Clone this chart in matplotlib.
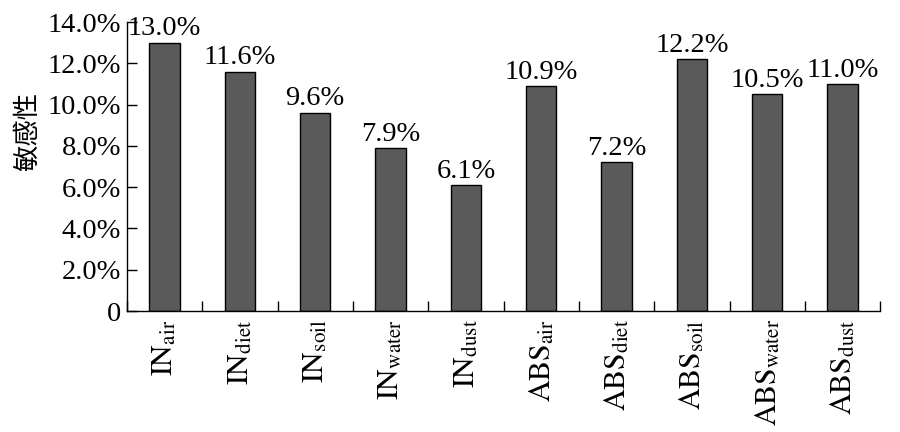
"""
plot.py — sensitivity bar chart (IN / ABS exposure routes)
"""

import matplotlib
matplotlib.use("Agg")
import matplotlib.pyplot as plt
from matplotlib.ticker import FixedLocator, FuncFormatter
import numpy as np

# ── Data ────────────────────────────────────────
routes   = ["IN", "IN", "IN", "IN", "IN", "ABS", "ABS", "ABS", "ABS", "ABS"]
media    = ["air", "diet", "soil", "water", "dust", "air", "diet", "soil", "water", "dust"]
values   = [13.0, 11.6, 9.6, 7.9, 6.1, 10.9, 7.2, 12.2, 10.5, 11.0]   # percent
y_ticks  = [0, 2, 4, 6, 8, 10, 12, 14]
y_label  = "敏感性"
# ────────────────────────────────────────────────

plt.rcParams["font.family"] = ["Liberation Serif", "Noto Sans CJK SC"]
plt.rcParams["mathtext.fontset"] = "stix"

BAR_COLOR = "#5a5a5a"
FS = 20.5

fig = plt.figure(figsize=(9, 4.32), dpi=100)
ax = fig.add_axes([0.141, 0.280, 0.837, 0.669])

x = np.arange(len(values))
bars = ax.bar(x, values, width=0.4, color=BAR_COLOR, edgecolor="black", linewidth=1.0)

# value labels on top of bars
for xi, v in zip(x, values):
    ax.annotate(f"{v:.1f}%", (xi, v), xytext=(0, 1), textcoords="offset points",
                ha="center", va="bottom", fontsize=FS)

ax.set_xlim(-0.5, len(values) - 0.5)
ax.set_ylim(0, 14)

# y axis
ax.set_yticks(y_ticks)
ax.yaxis.set_major_formatter(FuncFormatter(lambda v, p: "0" if v == 0 else f"{v:.1f}%"))
ax.tick_params(axis="y", direction="in", length=7, width=1, labelsize=FS, pad=4)
ax.set_ylabel(y_label, family=["Noto Sans CJK SC"], fontsize=19)
ax.yaxis.set_label_coords(-0.114, 0.62)

# x axis: boundary ticks (major), labels at bar centres (minor)
ax.xaxis.set_major_locator(FixedLocator(np.arange(-0.5, len(values), 1.0)))
ax.xaxis.set_major_formatter(FuncFormatter(lambda v, p: ""))
ax.xaxis.set_minor_locator(FixedLocator(x))
ax.set_xticklabels([rf"$\mathrm{{{r}}}_{{\mathrm{{{m}}}}}$" for r, m in zip(routes, media)],
                   minor=True, rotation=90, fontsize=FS + 1)
ax.tick_params(axis="x", which="major", direction="in", length=7, width=1)
ax.tick_params(axis="x", which="minor", length=0, pad=6)

for side in ["top", "right"]:
    ax.spines[side].set_visible(False)
for side in ["left", "bottom"]:
    ax.spines[side].set_linewidth(1.0)

plt.savefig("out.png", dpi=100)
plt.close()
